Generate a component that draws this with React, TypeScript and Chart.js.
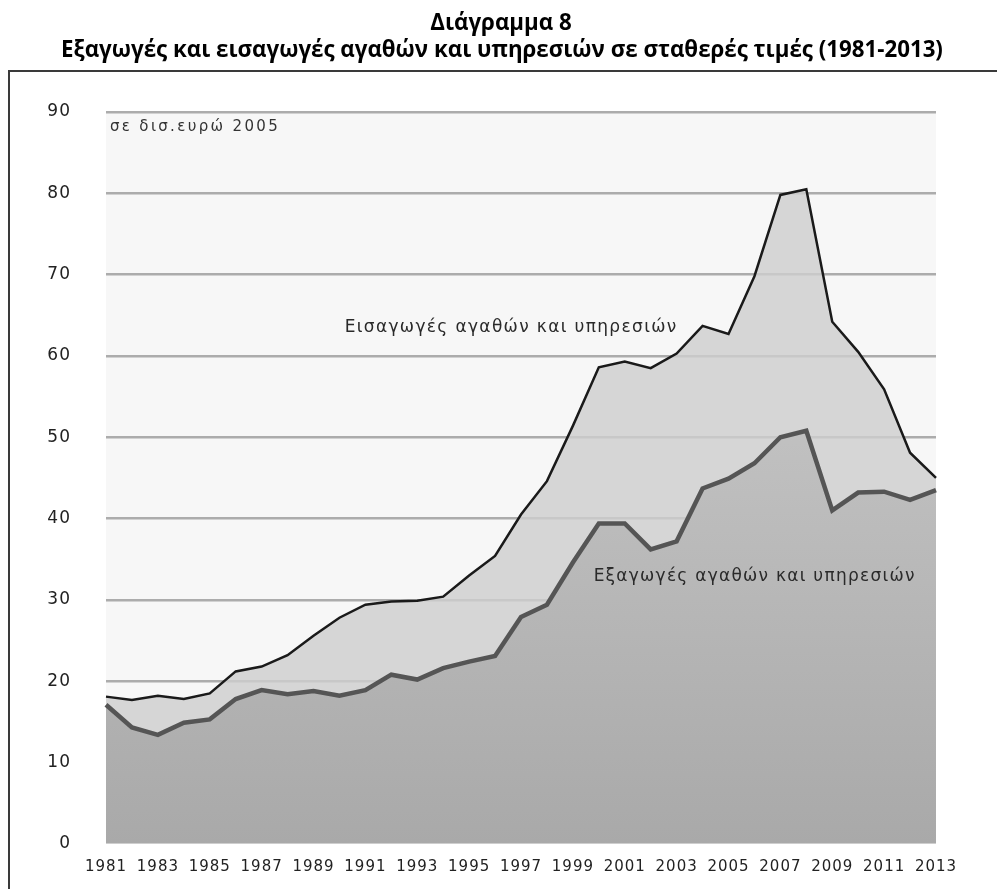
import React, { useEffect, useRef } from "react";
import { Chart, registerables } from "chart.js";

Chart.register(...registerables);

const years: string[] = [
  "1981","1982","1983","1984","1985","1986","1987","1988","1989","1990",
  "1991","1992","1993","1994","1995","1996","1997","1998","1999","2000",
  "2001","2002","2003","2004","2005","2006","2007","2008","2009","2010",
  "2011","2012","2013",
];

const imports: number[] = [
  18.1, 17.7, 18.2, 17.8, 18.5, 21.2, 21.8, 23.2, 25.6, 27.8,
  29.4, 29.8, 29.9, 30.4, 33.0, 35.4, 40.5, 44.6, 51.4, 58.6,
  59.3, 58.5, 60.3, 63.7, 62.7, 69.8, 79.8, 80.5, 64.2, 60.5,
  55.9, 48.1, 45.0,
];

const exportsData: number[] = [
  17.1, 14.3, 13.4, 14.9, 15.3, 17.8, 18.9, 18.4, 18.8, 18.2,
  18.9, 20.8, 20.2, 21.6, 22.4, 23.1, 27.9, 29.4, 34.6, 39.4,
  39.4, 36.2, 37.2, 43.7, 44.9, 46.8, 50.0, 50.8, 41.0, 43.2,
  43.3, 42.3, 43.5,
];

const yTicks: number[] = [0, 10, 20, 30, 40, 50, 60, 70, 80, 90];

const titleLine1 = "Διάγραμμα 8";
const titleLine2 = "Εξαγωγές και εισαγωγές αγαθών και υπηρεσιών σε σταθερές τιμές (1981-2013)";
const unitLabel = "σε δισ.ευρώ 2005";
const importsLabel = "Εισαγωγές αγαθών και υπηρεσιών";
const exportsLabel = "Εξαγωγές αγαθών και υπηρεσιών";

const W = 997;
const H = 889;

function drawSpaced(
  ctx: CanvasRenderingContext2D,
  text: string,
  x: number,
  y: number,
  font: string,
  targetWidth: number,
  color: string
) {
  ctx.save();
  (ctx as any).letterSpacing = "0px";
  ctx.font = font;
  const w = ctx.measureText(text).width;
  const n = Array.from(text).length;
  const sp = Math.max(0, (targetWidth - w) / n);
  (ctx as any).letterSpacing = sp + "px";
  ctx.fillStyle = color;
  ctx.textAlign = "left";
  ctx.textBaseline = "middle";
  ctx.fillText(text, x, y);
  ctx.restore();
}

const decorPlugin = {
  id: "decor",
  beforeDraw(chart: any) {
    const { ctx, chartArea } = chart;
    ctx.save();
    ctx.fillStyle = "#ffffff";
    ctx.fillRect(0, 0, W, H);
    ctx.fillStyle = "#f7f7f7";
    ctx.fillRect(chartArea.left, chartArea.top, chartArea.right - chartArea.left, chartArea.bottom - chartArea.top);
    ctx.restore();
    (ctx as any).letterSpacing = "1px";
  },
  afterDraw(chart: any) {
    const { ctx, scales } = chart;
    (ctx as any).letterSpacing = "0px";
    ctx.save();
    ctx.fillStyle = "#000000";
    ctx.textAlign = "center";
    ctx.textBaseline = "middle";
    ctx.font = "bold 22.3px 'Open Sans'";
    ctx.fillText(titleLine1, 501, 24);
    ctx.fillText(titleLine2, 502, 51);
    ctx.strokeStyle = "#3a3a3a";
    ctx.lineWidth = 2;
    ctx.beginPath();
    ctx.moveTo(9, H);
    ctx.lineTo(9, 71);
    ctx.lineTo(W, 71);
    ctx.stroke();
    ctx.restore();

    const x = scales.x;
    const y = scales.y;
    drawSpaced(ctx, unitLabel, x.left + 4, y.getPixelForValue(88.2), "15px 'DejaVu Sans'", 170, "#333333");
    drawSpaced(ctx, importsLabel, x.getPixelForValue(9.2), y.getPixelForValue(63.5), "17px 'DejaVu Sans'", 333, "#2a2a2a");
    drawSpaced(ctx, exportsLabel, x.getPixelForValue(18.8), y.getPixelForValue(32.9), "17px 'DejaVu Sans'", 322, "#2a2a2a");
  },
};

export default function App() {
  const ref = useRef<HTMLCanvasElement | null>(null);

  useEffect(() => {
    if (!ref.current) return;
    const chart = new Chart(ref.current, {
      type: "line",
      data: {
        labels: years,
        datasets: [
          {
            label: exportsLabel,
            data: exportsData,
            borderColor: "#555555",
            borderWidth: 4.5,
            pointRadius: 0,
            tension: 0,
            fill: "origin",
            backgroundColor: (c: any) => {
              const ch = c.chart;
              const area = ch.chartArea;
              if (!area) return "#b5b5b5";
              const g = ch.ctx.createLinearGradient(0, area.top, 0, area.bottom);
              g.addColorStop(0, "#cdcdcd");
              g.addColorStop(0.45, "#c0c0c0");
              g.addColorStop(1, "#a9a9a9");
              return g;
            },
            borderJoinStyle: "miter",
          },
          {
            label: importsLabel,
            data: imports,
            borderColor: "#1a1a1a",
            borderWidth: 2.5,
            pointRadius: 0,
            tension: 0,
            fill: "origin",
            backgroundColor: "rgba(206,206,206,0.82)",
            borderJoinStyle: "miter",
          },
        ],
      },
      options: {
        responsive: false,
        animation: false,
        devicePixelRatio: 1,
        layout: { padding: { left: 0, right: W - 936, top: 112, bottom: 0 } },
        plugins: {
          legend: { display: false },
          title: { display: false },
          tooltip: { enabled: false },
        },
        scales: {
          x: {
            type: "category",
            grid: { display: false, drawTicks: false },
            border: { display: false },
            offset: false,
            ticks: {
              autoSkip: false,
              maxRotation: 0,
              minRotation: 0,
              padding: 14,
              color: "#222222",
              font: { family: "'DejaVu Sans'", size: 15 },
              callback: (_v: any, i: number) => (i % 2 === 0 ? years[i] : ""),
            },
            afterFit: (s: any) => {
              s.height = H - 861;
            },
          },
          y: {
            min: 0,
            max: 90,
            afterBuildTicks: (s: any) => {
              s.ticks = yTicks.map((v) => ({ value: v }));
            },
            grid: {
              drawTicks: false,
              color: (c: any) => (c.tick && c.tick.value === 0 ? "rgba(0,0,0,0)" : "#acacac"),
              lineWidth: 2.5,
            },
            border: { display: false },
            ticks: {
              padding: 35,
              color: "#222222",
              font: { family: "'DejaVu Sans'", size: 17 },
            },
            afterFit: (s: any) => {
              s.width = 106;
            },
          },
        },
      },
      plugins: [decorPlugin],
    } as any);
    return () => chart.destroy();
  }, []);

  return (
    <div style={{ position: "absolute", left: 0, top: 0, width: W, height: H, background: "#fff" }}>
      <canvas ref={ref} width={W} height={H} style={{ display: "block", width: W, height: H }} />
    </div>
  );
}
